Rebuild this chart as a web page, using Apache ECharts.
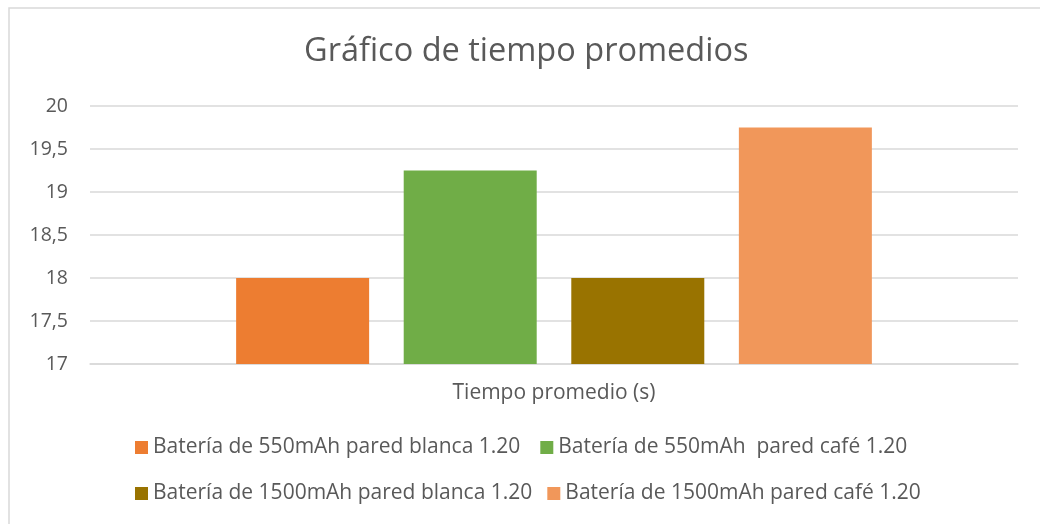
<!DOCTYPE html>
<html>
<head>
<meta charset="utf-8">
<script src="https://cdn.jsdelivr.net/npm/echarts@6/dist/echarts.min.js"></script>
<style>
  html, body { margin: 0; padding: 0; background: #fff; }
  #chart { width: 1040px; height: 524px; }
</style>
</head>
<body>
<div id="chart"></div>
<script>
// Average times per battery / wall configuration
const categories = ['Tiempo promedio (s)'];
const seriesNames = [
  'Batería de 550mAh pared blanca 1.20',
  'Batería de 550mAh  pared café 1.20',
  'Batería de 1500mAh pared blanca 1.20',
  'Batería de 1500mAh pared café 1.20'
];
const seriesValues = [
  [18],
  [19.25],
  [18],
  [19.75]
];
const seriesColors = ['#ED7D31', '#70AD47', '#997300', '#F1975A'];
const yTicks = { min: 17, max: 20, interval: 0.5 };

const FONT = '"Open Sans", Lato, sans-serif';
const TEXT = '#595959';

const chart = echarts.init(document.getElementById('chart'), null, { renderer: 'canvas' });

const legendText = { color: TEXT, fontSize: 21, fontFamily: FONT };

chart.setOption({
  animation: false,
  backgroundColor: '#fff',
  title: {
    text: 'Gráfico de tiempo promedios',
    left: 299,
    top: 30,
    textStyle: { color: TEXT, fontSize: 32.5, fontWeight: 'normal', fontFamily: FONT }
  },
  graphic: [{
    type: 'rect',
    shape: { x: 9, y: 8, width: 1040, height: 530 },
    style: { fill: 'none', stroke: '#d9d9d9', lineWidth: 1.5 },
    silent: true
  }],
  legend: [
    {
      data: seriesNames.slice(0, 2),
      left: 130, top: 432,
      itemWidth: 13, itemHeight: 13, itemGap: 20,
      icon: 'rect',
      textStyle: legendText
    },
    {
      data: seriesNames.slice(2, 4),
      left: 130, top: 478,
      itemWidth: 13, itemHeight: 13, itemGap: 15,
      icon: 'rect',
      textStyle: legendText
    }
  ],
  grid: { left: 90, right: 22, top: 106, bottom: 160 },
  xAxis: {
    type: 'category',
    data: categories,
    axisLine: { lineStyle: { color: '#d9d9d9', width: 1.5 } },
    axisTick: { show: false },
    axisLabel: { color: TEXT, fontSize: 21, fontFamily: FONT, margin: 19 }
  },
  yAxis: {
    type: 'value',
    min: yTicks.min, max: yTicks.max, interval: yTicks.interval,
    axisLine: { show: false },
    axisTick: { show: false },
    splitLine: { lineStyle: { color: '#d9d9d9', width: 1.5 } },
    axisLabel: {
      color: TEXT, fontSize: 19.5, fontFamily: FONT, margin: 22,
      formatter: v => String(v).replace('.', ',')
    }
  },
  series: seriesNames.map((name, i) => ({
    name,
    type: 'bar',
    data: seriesValues[i],
    barWidth: 133,
    barGap: '26%',
    itemStyle: { color: seriesColors[i] }
  }))
});
</script>
</body>
</html>
